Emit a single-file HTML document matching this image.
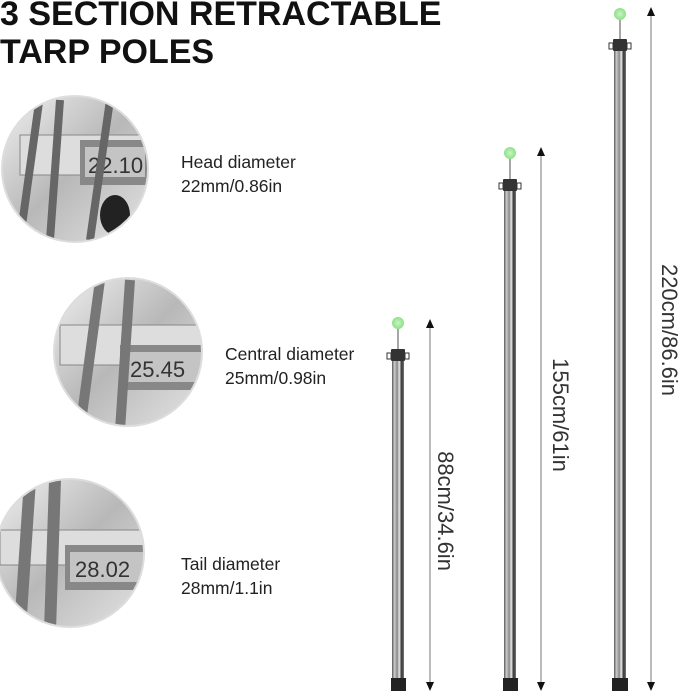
<!DOCTYPE html>
<html><head><meta charset="utf-8"><style>
html,body{margin:0;padding:0;background:#fff;width:679px;height:694px;overflow:hidden}
svg{display:block}
text{font-family:"Liberation Sans",sans-serif}
</style></head><body>
<svg width="679" height="694" viewBox="0 0 679 694" xmlns="http://www.w3.org/2000/svg">
<defs>
<linearGradient id="pole" x1="0" x2="1">
<stop offset="0" stop-color="#555"/><stop offset="0.2" stop-color="#ccc"/><stop offset="0.45" stop-color="#888"/><stop offset="0.6" stop-color="#eee"/><stop offset="0.8" stop-color="#333"/><stop offset="1" stop-color="#777"/>
</linearGradient>
<radialGradient id="ball"><stop offset="0" stop-color="#c8f5c0"/><stop offset="1" stop-color="#8ee08a"/></radialGradient>
<linearGradient id="circ" x1="0" y1="0" x2="1" y2="1"><stop offset="0" stop-color="#f0f0f0"/><stop offset="0.5" stop-color="#b8b8b8"/><stop offset="1" stop-color="#e4e4e4"/></linearGradient>
<clipPath id="c1"><circle cx="75" cy="169" r="73"/></clipPath>
<clipPath id="c2"><circle cx="128" cy="352" r="74"/></clipPath>
<clipPath id="c3"><circle cx="70" cy="553" r="74"/></clipPath>
</defs>
<text x="0" y="25" font-size="34" font-weight="bold" fill="#111">3 SECTION RETRACTABLE</text>
<text x="0" y="63" font-size="34" font-weight="bold" fill="#111">TARP POLES</text>

<g clip-path="url(#c1)">
<circle cx="75" cy="169" r="73" fill="url(#circ)"/>
<rect x="20" y="135" width="180" height="40" fill="#ddd" stroke="#888"/>
<rect x="80" y="140" width="70" height="45" fill="#888"/>
<rect x="85" y="147" width="60" height="30" fill="#c4c4c4"/>
<text x="88" y="173" font-size="22" fill="#333">22.10</text>
<path d="M40 95 L20 240 M60 100 L50 240 M110 100 L90 240" stroke="#666" stroke-width="8"/>
<ellipse cx="115" cy="215" rx="15" ry="20" fill="#222"/>
</g>
<circle cx="75" cy="169" r="73" fill="none" stroke="#ddd" stroke-width="2"/>

<g clip-path="url(#c2)">
<circle cx="128" cy="352" r="74" fill="url(#circ)"/>
<rect x="60" y="325" width="180" height="40" fill="#ddd" stroke="#888"/>
<rect x="120" y="345" width="90" height="45" fill="#888"/>
<rect x="125" y="352" width="80" height="30" fill="#c4c4c4"/>
<text x="130" y="377" font-size="22" fill="#333">25.45</text>
<path d="M100 280 L80 430 M130 280 L120 430" stroke="#777" stroke-width="10"/>
</g>
<circle cx="128" cy="352" r="74" fill="none" stroke="#ddd" stroke-width="2"/>

<g clip-path="url(#c3)">
<circle cx="70" cy="553" r="74" fill="url(#circ)"/>
<rect x="0" y="530" width="180" height="35" fill="#ddd" stroke="#888"/>
<rect x="65" y="545" width="90" height="45" fill="#888"/>
<rect x="70" y="552" width="80" height="30" fill="#c4c4c4"/>
<text x="75" y="577" font-size="22" fill="#333">28.02</text>
<path d="M30 480 L20 630 M55 480 L50 630" stroke="#777" stroke-width="12"/>
</g>
<circle cx="70" cy="553" r="74" fill="none" stroke="#ddd" stroke-width="2"/>

<g font-size="17.5" fill="#222">
<text x="181" y="168">Head diameter</text><text x="181" y="192">22mm/0.86in</text>
<text x="225" y="360">Central diameter</text><text x="225" y="384">25mm/0.98in</text>
<text x="181" y="570">Tail diameter</text><text x="181" y="594">28mm/1.1in</text>
</g>

<g>
<line x1="398" y1="323" x2="398" y2="350" stroke="#888" stroke-width="1.5"/>
<circle cx="398" cy="323" r="6" fill="url(#ball)"/>
<rect x="392" y="350" width="12" height="330" fill="url(#pole)"/>
<rect x="391" y="349" width="14" height="12" fill="#333" rx="1"/>
<rect x="387" y="353" width="4" height="6" fill="none" stroke="#333"/><rect x="405" y="353" width="4" height="6" fill="none" stroke="#333"/>
<rect x="391" y="678" width="15" height="13" fill="#222"/>

<line x1="510" y1="153" x2="510" y2="180" stroke="#888" stroke-width="1.5"/>
<circle cx="510" cy="153" r="6" fill="url(#ball)"/>
<rect x="504" y="180" width="12" height="500" fill="url(#pole)"/>
<rect x="503" y="179" width="14" height="12" fill="#333" rx="1"/>
<rect x="499" y="183" width="4" height="6" fill="none" stroke="#333"/><rect x="517" y="183" width="4" height="6" fill="none" stroke="#333"/>
<rect x="503" y="678" width="15" height="13" fill="#222"/>

<line x1="620" y1="14" x2="620" y2="40" stroke="#888" stroke-width="1.5"/>
<circle cx="620" cy="14" r="6" fill="url(#ball)"/>
<rect x="614" y="40" width="12" height="640" fill="url(#pole)"/>
<rect x="613" y="39" width="14" height="12" fill="#333" rx="1"/>
<rect x="609" y="43" width="4" height="6" fill="none" stroke="#333"/><rect x="627" y="43" width="4" height="6" fill="none" stroke="#333"/>
<rect x="612" y="678" width="16" height="13" fill="#222"/>
</g>

<g stroke="#777" stroke-width="1">
<line x1="430" y1="322" x2="430" y2="684"/>
<line x1="541" y1="150" x2="541" y2="684"/>
<line x1="651" y1="10" x2="651" y2="684"/>
</g>
<g fill="#111">
<path d="M426 328 L430 319 L434 328Z"/><path d="M426 682 L430 691 L434 682Z"/>
<path d="M537 156 L541 147 L545 156Z"/><path d="M537 682 L541 691 L545 682Z"/>
<path d="M647 16 L651 7 L655 16Z"/><path d="M647 682 L651 691 L655 682Z"/>
</g>
<g font-size="22" fill="#333">
<text transform="translate(438,511) rotate(90)" text-anchor="middle">88cm/34.6in</text>
<text transform="translate(553,415) rotate(90)" text-anchor="middle">155cm/61in</text>
<text transform="translate(662,330) rotate(90)" text-anchor="middle">220cm/86.6in</text>
</g>
</svg>
</body></html>
